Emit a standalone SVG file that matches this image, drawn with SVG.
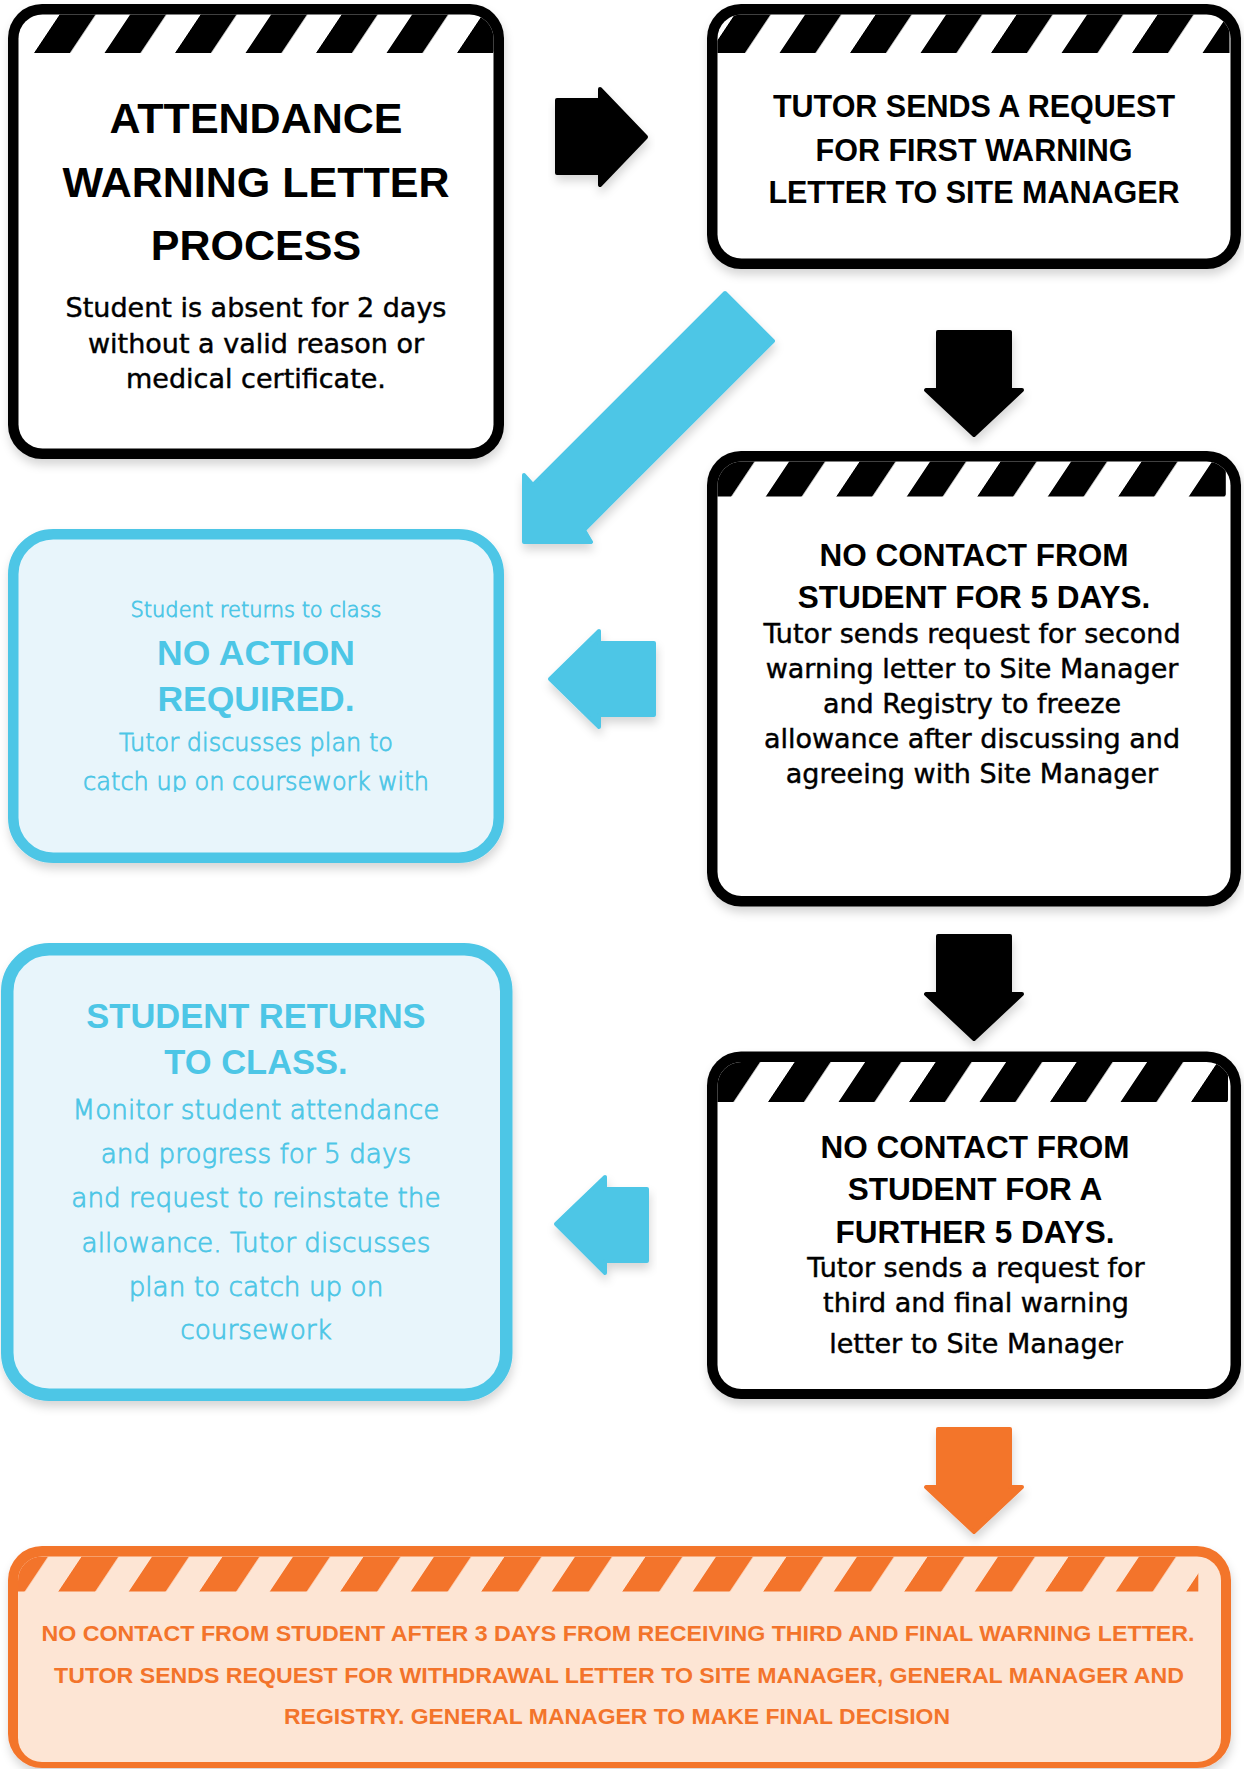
<svg xmlns="http://www.w3.org/2000/svg" width="1244" height="1769" viewBox="0 0 1244 1769">
<defs>
<style>
.frame{fill:#000}
.inner{fill:#fff}
.oframe{fill:#F3742B}
.oinner{fill:#FDE5D4}
.bbox{fill:#E8F5FB;stroke:#4DC6E6}
.h{font-family:"Liberation Sans",Arial,sans-serif;font-weight:700;text-anchor:middle;fill:#000}
.b{font-family:"DejaVu Sans","Liberation Sans",sans-serif;text-anchor:middle;fill:#000;stroke:#000;stroke-width:0.45px}
.bl{font-family:"DejaVu Sans","Liberation Sans",sans-serif;font-weight:200;text-anchor:middle;fill:#4DC6E6;stroke:#4DC6E6;stroke-width:0.8px}
.bh{font-family:"Liberation Sans",Arial,sans-serif;font-weight:700;text-anchor:middle;fill:#4DC6E6}
.oh{font-family:"Liberation Sans",Arial,sans-serif;font-weight:700;text-anchor:middle;fill:#F3742B;font-size:22.5px}
.ab{fill:#000;stroke:#000;stroke-width:4;stroke-linejoin:round}
.abl{fill:#4DC6E6;stroke:#4DC6E6;stroke-width:4;stroke-linejoin:round}
.aor{fill:#F3742B;stroke:#F3742B;stroke-width:4;stroke-linejoin:round}
</style>
<filter id="sh" x="-10%" y="-10%" width="120%" height="125%">
<feDropShadow dx="1" dy="6" stdDeviation="5" flood-color="#000" flood-opacity="0.16"/>
</filter>
<pattern id="stk" patternUnits="userSpaceOnUse" width="70.5" height="200" patternTransform="skewX(-33.7)"><rect width="36" height="200" fill="#000"/></pattern>
<pattern id="sto" patternUnits="userSpaceOnUse" width="70.5" height="200" patternTransform="skewX(-33.7)"><rect width="37" height="200" fill="#F3742B"/></pattern>
<clipPath id="c1"><rect x="18.5" y="14.5" width="475" height="434" rx="24"/></clipPath>
<clipPath id="c2"><rect x="717.5" y="14.5" width="513" height="244" rx="24"/></clipPath>
<clipPath id="c3"><rect x="717.5" y="461.5" width="513" height="434.5" rx="24"/></clipPath>
<clipPath id="c4"><rect x="717.5" y="1062" width="513" height="327" rx="24"/></clipPath>
<clipPath id="c5"><rect x="18" y="1556.5" width="1203" height="205.5" rx="24"/></clipPath>
<clipPath id="cb1"><rect x="0" y="520" width="520" height="272"/></clipPath>
</defs>
<rect width="1244" height="1769" fill="#fff"/>

<g id="connectors">
<path class="ab" filter="url(#sh)" d="M557,100 H600 V89 L646,137 L600,185 V173 H557 Z"/>
<path class="ab" filter="url(#sh)" d="M938,332 H1010 V390 H1022 L974,435 L926,390 H938 Z"/>
<path class="ab" filter="url(#sh)" d="M938,936 H1010 V994 H1022 L974,1039 L926,994 H938 Z"/>
<path class="aor" filter="url(#sh)" d="M938,1429 H1010 V1487 H1022 L974,1532 L926,1487 H938 Z"/>
<path class="abl" filter="url(#sh)" d="M725,293 L773,341 L584,530 L591,542 L524,542 L524,475 L533,485 Z"/>
<path class="abl" filter="url(#sh)" d="M654,643 V715 H599 V727 L550,679 L599,631 V643 Z"/>
<path class="abl" filter="url(#sh)" d="M647,1189 V1261 H605 V1273 L556,1224 L605,1177 V1189 Z"/>
</g>

<g id="box1">
<rect class="frame" filter="url(#sh)" x="8" y="4" width="496" height="455" rx="34"/>
<rect class="inner" x="18.5" y="14.5" width="475" height="434" rx="24"/>
<g clip-path="url(#c1)"><g transform="translate(34,53)"><rect x="-20" y="-39" width="480" height="39" fill="url(#stk)"/></g></g>
<text class="h" font-size="43" x="256" y="133">ATTENDANCE</text>
<text class="h" font-size="43" x="256" y="197">WARNING LETTER</text>
<text class="h" font-size="43" x="256" y="260">PROCESS</text>
<text class="b" font-size="27" x="256" y="317">Student is absent for 2 days</text>
<text class="b" font-size="27" x="256" y="353">without a valid reason or</text>
<text class="b" font-size="27" x="256" y="388">medical certificate.</text>
</g>

<g id="box2">
<rect class="frame" filter="url(#sh)" x="707" y="4" width="534" height="265" rx="34"/>
<rect class="inner" x="717.5" y="14.5" width="513" height="244" rx="24"/>
<g clip-path="url(#c2)"><g transform="translate(779.5,53)"><rect x="-70" y="-39" width="520" height="39" fill="url(#stk)"/></g></g>
<text class="h" font-size="30.5" x="974" y="117">TUTOR SENDS A REQUEST</text>
<text class="h" font-size="30.5" x="974" y="161">FOR FIRST WARNING</text>
<text class="h" font-size="30.5" x="974" y="203">LETTER TO SITE MANAGER</text>
</g>

<g id="box3">
<rect class="frame" filter="url(#sh)" x="707" y="451" width="534" height="455.5" rx="34"/>
<rect class="inner" x="717.5" y="461.5" width="513" height="434.5" rx="24"/>
<g clip-path="url(#c3)"><g transform="translate(765.8,496.5)"><rect x="-60" y="-36" width="520" height="36" fill="url(#stk)"/></g></g>
<text class="h" font-size="31.5" x="974" y="566">NO CONTACT FROM</text>
<text class="h" font-size="31.5" x="974" y="608">STUDENT FOR 5 DAYS.</text>
<text class="b" font-size="27" x="972" y="643">Tutor sends request for second</text>
<text class="b" font-size="27" x="972" y="678">warning letter to Site Manager</text>
<text class="b" font-size="27" x="972" y="713">and Registry to freeze</text>
<text class="b" font-size="27" x="972" y="748">allowance after discussing and</text>
<text class="b" font-size="27" x="972" y="783">agreeing with Site Manager</text>
</g>

<g id="box4">
<rect class="frame" filter="url(#sh)" x="707" y="1051.5" width="534" height="347.5" rx="34"/>
<rect class="inner" x="717.5" y="1062" width="513" height="327" rx="24"/>
<g clip-path="url(#c4)"><g transform="translate(768,1102)"><rect x="-60" y="-41" width="520" height="41" fill="url(#stk)"/></g></g>
<text class="h" font-size="31.5" x="975" y="1158">NO CONTACT FROM</text>
<text class="h" font-size="31.5" x="975" y="1200">STUDENT FOR A</text>
<text class="h" font-size="31.5" x="975" y="1243">FURTHER 5 DAYS.</text>
<text class="b" font-size="27" x="976" y="1277">Tutor sends a request for</text>
<text class="b" font-size="27" x="976" y="1312">third and final warning</text>
<text class="b" font-size="27" x="976" y="1353">letter to Site Manage<tspan font-size="21">r</tspan></text>
</g>

<g id="box5">
<rect class="bbox" filter="url(#sh)" x="13.25" y="534.25" width="485.5" height="323.5" rx="40" stroke-width="10.5"/>
<text class="bl" font-size="21" x="256" y="617">Student returns to class</text>
<text class="bh" font-size="35.5" x="256" y="665">NO ACTION</text>
<text class="bh" font-size="35.5" x="256" y="711">REQUIRED.</text>
<g clip-path="url(#cb1)">
<text class="bl" font-size="24" x="256" y="751">Tutor discusses plan to</text>
<text class="bl" font-size="24" x="256" y="790">catch up on coursework with</text>
</g>
</g>

<g id="box6">
<rect class="bbox" filter="url(#sh)" x="7.25" y="949.25" width="499" height="445.5" rx="42" stroke-width="12.5"/>
<text class="bh" font-size="34.5" x="256" y="1028">STUDENT RETURNS</text>
<text class="bh" font-size="34.5" x="256" y="1074">TO CLASS.</text>
<text class="bl" font-size="26.3" x="256" y="1119">Monitor student attendance</text>
<text class="bl" font-size="26.3" x="256" y="1163">and progress for 5 days</text>
<text class="bl" font-size="26.3" x="256" y="1207">and request to reinstate the</text>
<text class="bl" font-size="26.3" x="256" y="1252">allowance. Tutor discusses</text>
<text class="bl" font-size="26.3" x="256" y="1296">plan to catch up on</text>
<text class="bl" font-size="26.3" x="256" y="1339">coursework</text>
</g>

<g id="box7">
<rect class="oframe" filter="url(#sh)" x="8" y="1546" width="1223" height="222" rx="34"/>
<rect class="oinner" x="18" y="1556.5" width="1203" height="205.5" rx="24"/>
<g clip-path="url(#c5)"><g transform="translate(58.3,1591.5)"><rect x="-80" y="-35" width="1220" height="35" fill="url(#sto)"/></g></g>
<text class="oh" x="618" y="1641" textLength="1153" lengthAdjust="spacingAndGlyphs">NO CONTACT FROM STUDENT AFTER 3 DAYS FROM RECEIVING THIRD AND FINAL WARNING LETTER.</text>
<text class="oh" x="619" y="1683" textLength="1130" lengthAdjust="spacingAndGlyphs">TUTOR SENDS REQUEST FOR WITHDRAWAL LETTER TO SITE MANAGER, GENERAL MANAGER AND</text>
<text class="oh" x="617" y="1724" textLength="666" lengthAdjust="spacingAndGlyphs">REGISTRY. GENERAL MANAGER TO MAKE FINAL DECISION</text>
</g>
</svg>
